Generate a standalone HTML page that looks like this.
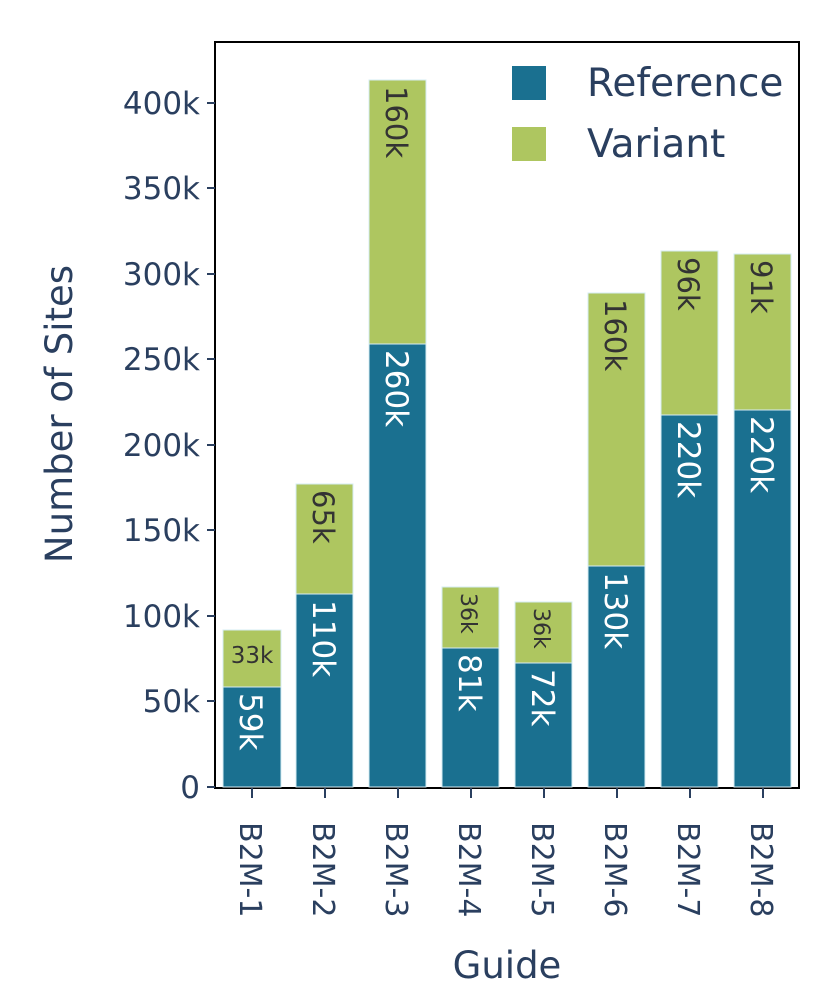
<!DOCTYPE html>
<html><head><meta charset="utf-8"><style>body{margin:0;background:#fff}svg{display:block}text{font-family:"DejaVu Sans","Liberation Sans",sans-serif}</style></head><body>
<svg width="830" height="1006" viewBox="0 0 830 1006" xmlns="http://www.w3.org/2000/svg">
<rect x="215" y="42" width="584" height="746" fill="none" stroke="#000" stroke-width="2"/>
<g stroke="#d6ecf3" stroke-width="1">
<rect x="223" y="687" width="58" height="100" fill="#1a7090"/><rect x="223" y="630" width="58" height="57" fill="#aec660"/>
<rect x="296" y="594" width="57" height="193" fill="#1a7090"/><rect x="296" y="484" width="57" height="110" fill="#aec660"/>
<rect x="369" y="344" width="57" height="443" fill="#1a7090"/><rect x="369" y="80" width="57" height="264" fill="#aec660"/>
<rect x="442" y="648" width="57" height="139" fill="#1a7090"/><rect x="442" y="587" width="57" height="61" fill="#aec660"/>
<rect x="515" y="663" width="57" height="124" fill="#1a7090"/><rect x="515" y="602" width="57" height="61" fill="#aec660"/>
<rect x="588" y="566" width="57" height="221" fill="#1a7090"/><rect x="588" y="293" width="57" height="273" fill="#aec660"/>
<rect x="661" y="415" width="57" height="372" fill="#1a7090"/><rect x="661" y="251" width="57" height="164" fill="#aec660"/>
<rect x="734" y="410" width="57" height="377" fill="#1a7090"/><rect x="734" y="254" width="57" height="156" fill="#aec660"/>
</g>
<g font-size="31" fill="#fff">
<text transform="translate(240,693) rotate(90)">59k</text>
<text transform="translate(313,600) rotate(90)">110k</text>
<text transform="translate(386,350) rotate(90)">260k</text>
<text transform="translate(459,654) rotate(90)">81k</text>
<text transform="translate(532,669) rotate(90)">72k</text>
<text transform="translate(605,572) rotate(90)">130k</text>
<text transform="translate(678,421) rotate(90)">220k</text>
<text transform="translate(751,416) rotate(90)">220k</text>
</g>
<g font-size="29" fill="#333">
<text x="252" y="663" font-size="23" text-anchor="middle">33k</text>
<text transform="translate(313,490) rotate(90)">65k</text>
<text transform="translate(386,86) rotate(90)">160k</text>
<text transform="translate(461,593) rotate(90)" font-size="22">36k</text>
<text transform="translate(534,608) rotate(90)" font-size="22">36k</text>
<text transform="translate(605,299) rotate(90)">160k</text>
<text transform="translate(678,257) rotate(90)">96k</text>
<text transform="translate(751,260) rotate(90)">91k</text>
</g>
<g stroke="#2a3f5f" stroke-width="2">
<line x1="207" y1="787" x2="215" y2="787"/><line x1="207" y1="701" x2="215" y2="701"/><line x1="207" y1="616" x2="215" y2="616"/><line x1="207" y1="530" x2="215" y2="530"/><line x1="207" y1="445" x2="215" y2="445"/><line x1="207" y1="359" x2="215" y2="359"/><line x1="207" y1="274" x2="215" y2="274"/><line x1="207" y1="188" x2="215" y2="188"/><line x1="207" y1="103" x2="215" y2="103"/>
<line x1="252" y1="788" x2="252" y2="798"/><line x1="325" y1="788" x2="325" y2="798"/><line x1="398" y1="788" x2="398" y2="798"/><line x1="471" y1="788" x2="471" y2="798"/><line x1="544" y1="788" x2="544" y2="798"/><line x1="617" y1="788" x2="617" y2="798"/><line x1="690" y1="788" x2="690" y2="798"/><line x1="763" y1="788" x2="763" y2="798"/>
</g>
<g font-size="31" fill="#2a3f5f" text-anchor="end">
<text x="200" y="798">0</text><text x="200" y="712">50k</text><text x="200" y="627">100k</text><text x="200" y="541">150k</text><text x="200" y="456">200k</text><text x="200" y="370">250k</text><text x="200" y="285">300k</text><text x="200" y="199">350k</text><text x="200" y="114">400k</text>
</g>
<g font-size="30" fill="#2a3f5f">
<text transform="translate(240,822) rotate(90)">B2M-1</text><text transform="translate(313,822) rotate(90)">B2M-2</text><text transform="translate(386,822) rotate(90)">B2M-3</text><text transform="translate(459,822) rotate(90)">B2M-4</text><text transform="translate(532,822) rotate(90)">B2M-5</text><text transform="translate(605,822) rotate(90)">B2M-6</text><text transform="translate(678,822) rotate(90)">B2M-7</text><text transform="translate(751,822) rotate(90)">B2M-8</text>
</g>
<text x="507" y="978" font-size="37" fill="#2a3f5f" text-anchor="middle">Guide</text>
<text transform="translate(72,414) rotate(-90)" font-size="37" fill="#2a3f5f" text-anchor="middle">Number of Sites</text>
<rect x="512" y="66" width="34" height="34" fill="#1a7090"/>
<rect x="512" y="127" width="34" height="34" fill="#aec660"/>
<text x="587" y="96" font-size="39" fill="#2a3f5f">Reference</text>
<text x="587" y="157" font-size="39" fill="#2a3f5f">Variant</text>
</svg>
</body></html>
